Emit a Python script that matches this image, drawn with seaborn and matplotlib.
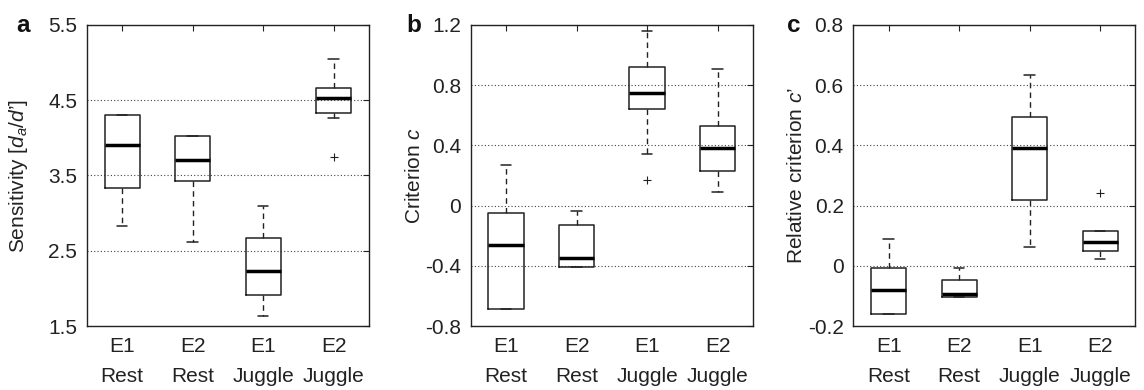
import numpy as np
import pandas as pd
import matplotlib
matplotlib.use("Agg")
import matplotlib.pyplot as plt
import seaborn as sns

sns.set_style("white")
plt.rcParams["font.family"] = ["Liberation Sans", "DejaVu Sans"]
plt.rcParams["mathtext.fontset"] = "custom"
plt.rcParams["mathtext.rm"] = "Liberation Sans"
plt.rcParams["mathtext.it"] = "Liberation Sans:italic"
plt.rcParams["mathtext.bf"] = "Liberation Sans:bold"
plt.rcParams["axes.unicode_minus"] = False

# ---------------- data ----------------
conditions = ["E1\nRest", "E2\nRest", "E1\nJuggle", "E2\nJuggle"]

# a: Sensitivity
sens_lo = [2.83, 2.61, 1.63, 4.26]
sens_q1 = [3.34, 3.43, 1.91, 4.33]
sens_med = [3.91, 3.70, 2.23, 4.53]
sens_q3 = [4.31, 4.02, 2.67, 4.66]
sens_hi = [4.31, 4.02, 3.10, 5.05]
sens_flier = [None, None, None, 3.75]
sens_ticks = [1.5, 2.5, 3.5, 4.5, 5.5]

# b: Criterion c
crit_lo = [-0.69, -0.41, 0.34, 0.09]
crit_q1 = [-0.69, -0.41, 0.64, 0.23]
crit_med = [-0.26, -0.35, 0.75, 0.38]
crit_q3 = [-0.05, -0.13, 0.92, 0.53]
crit_hi = [0.27, -0.035, 1.16, 0.91]
crit_flier = [None, None, 0.17, None]
crit_ticks = [-0.8, -0.4, 0, 0.4, 0.8, 1.2]

# c: Relative criterion c'
rel_lo = [-0.16, -0.105, 0.062, 0.022]
rel_q1 = [-0.16, -0.105, 0.219, 0.049]
rel_med = [-0.081, -0.093, 0.392, 0.080]
rel_q3 = [-0.008, -0.047, 0.494, 0.117]
rel_hi = [0.089, -0.008, 0.634, 0.117]
rel_flier = [None, None, None, 0.243]
rel_ticks = [-0.2, 0, 0.2, 0.4, 0.6, 0.8]


def summary_frame(lo, q1, med, q3, hi, flier):
    """Build per-condition values whose box-plot summary equals the read values."""
    rows = []
    for cond, a, b, m, c, d, f in zip(conditions, lo, q1, med, q3, hi, flier):
        if f is None:
            vals = [a, b, m, c, d]
        elif f < a:
            vals = [f, a, b, b, m, c, c, d, d]
        else:
            vals = [a, a, b, b, m, c, c, d, f]
        rows += [(cond, v) for v in vals]
    return pd.DataFrame(rows, columns=["cond", "value"])


panels = [
    ("a", summary_frame(sens_lo, sens_q1, sens_med, sens_q3, sens_hi, sens_flier),
     sens_ticks, r"Sensitivity [$d_a$/$d$’]"),
    ("b", summary_frame(crit_lo, crit_q1, crit_med, crit_q3, crit_hi, crit_flier),
     crit_ticks, r"Criterion $c$"),
    ("c", summary_frame(rel_lo, rel_q1, rel_med, rel_q3, rel_hi, rel_flier),
     rel_ticks, r"Relative criterion $c$’"),
]

FS = 15
fig = plt.figure(figsize=(11.44, 3.90), dpi=100)
lefts = [0.076, 0.4115, 0.746]
letter_x = [0.014, 0.355, 0.688]
label_x = [-0.202, -0.165, -0.167]
bottom, height, width = 0.164, 0.772, 0.2465

for (letter, df, ticks, ylabel), left, lx, ylx in zip(panels, lefts, letter_x, label_x):
    ax = fig.add_axes([left, bottom, width, height])
    sns.boxplot(
        data=df, x="cond", y="value", order=conditions, ax=ax,
        width=0.5, fill=False, color="#222222", linewidth=1.0, whis=1.5,
        boxprops=dict(color="#222222", linewidth=1.1),
        medianprops=dict(color="black", linewidth=2.5),
        whiskerprops=dict(color="#222222", linewidth=1.0, linestyle=(0, (4, 3))),
        capprops=dict(color="#222222", linewidth=1.1),
        flierprops=dict(marker="+", markersize=6, markeredgecolor="#222222",
                        markeredgewidth=0.8),
        capwidths=0.15,
    )
    ax.set_xlim(-0.5, 3.5)
    ax.set_ylim(ticks[0], ticks[-1])
    ax.set_yticks(ticks)
    ax.set_yticklabels([f"{t:g}" for t in ticks])
    ax.set_xticks(range(len(conditions)))
    ax.set_xticklabels(conditions, linespacing=1.75)
    ax.set_xlabel("")
    ax.set_ylabel(ylabel, fontsize=FS, color="#222222")
    ax.yaxis.set_label_coords(ylx, 0.5)
    ax.set_axisbelow(True)
    ax.yaxis.grid(True, linestyle=(0, (1, 2)), color="#444444", linewidth=0.8)
    ax.xaxis.grid(False)
    for sp in ax.spines.values():
        sp.set_visible(True)
        sp.set_color("#222222")
        sp.set_linewidth(1.0)
    ax.tick_params(axis="both", direction="in", length=4, width=0.8,
                   top=True, right=True, labelsize=FS, colors="#222222")
    ax.tick_params(axis="x", pad=8)
    ax.tick_params(axis="y", pad=7)
    fig.text(lx, 0.918, letter, fontsize=17.5, fontweight="bold",
             ha="left", va="baseline", color="#111111")

fig.savefig("out.png", dpi=100)
